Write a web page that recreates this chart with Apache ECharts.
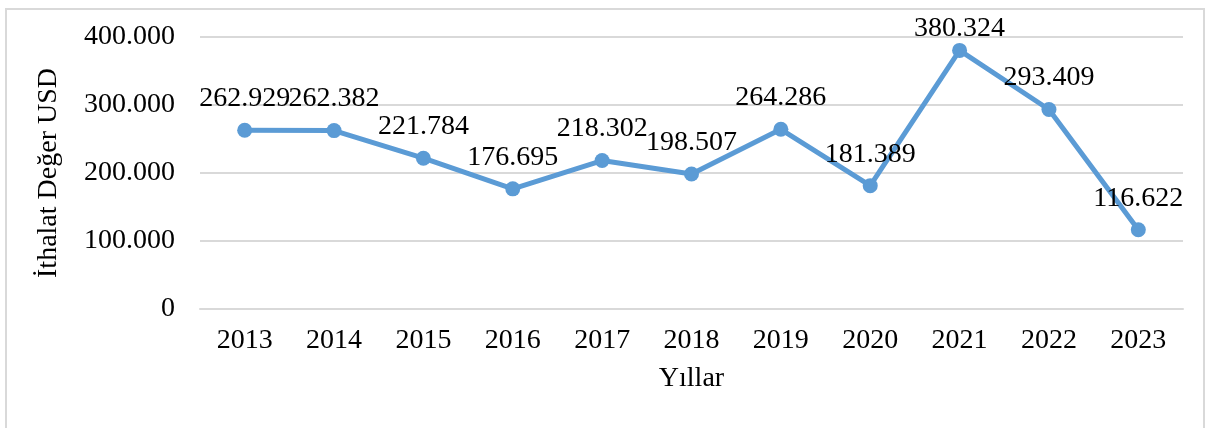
<!DOCTYPE html>
<html>
<head>
<meta charset="UTF-8">
<title>İthalat Değer USD</title>
<script src="https://cdn.jsdelivr.net/npm/echarts@6/dist/echarts.min.js"></script>
<style>
html, body { margin: 0; padding: 0; background: #fff; }
#frame {
	position: absolute; left: 5px; top: 8px; width: 1200px; height: 430px;
	border: 2px solid #d9d9d9; box-sizing: border-box;
}
#main { position: absolute; left: 0; top: 0; width: 1214px; height: 428px; }
</style>
</head>
<body>
<div id="frame"></div>
<div id="main"></div>
<script>
	// veriler
	var years = ['2013', '2014', '2015', '2016', '2017', '2018', '2019', '2020', '2021', '2022', '2023'];
	var values = [262929, 262382, 221784, 176695, 218302, 198507, 264286, 181389, 380324, 293409, 116622];
	var yTicks = [0, 100000, 200000, 300000, 400000];

	function fmt(v) {
		if (v === 0) return '0';
		var s = String(Math.round(v));
		return s.replace(/\B(?=(\d{3})+(?!\d))/g, '.');
	}

	var font = 'Liberation Serif, Times New Roman, serif';
	var myChart = echarts.init(document.getElementById('main'));

	var option = {
		animation : false,
		textStyle : { fontFamily : font },
		grid : {
			left : 200,
			right : 31,
			top : 37,
			bottom : 119
		},
		xAxis : {
			type : 'category',
			data : years,
			name : 'Yıllar',
			nameLocation : 'middle',
			nameGap : 56,
			nameTextStyle : { fontFamily : font, fontSize : 28, color : '#000' },
			axisLine : { lineStyle : { color : '#d9d9d9', width : 2 } },
			axisTick : { show : false },
			axisLabel : { fontFamily : font, fontSize : 28, color : '#000', margin : 18 }
		},
		yAxis : {
			type : 'value',
			min : yTicks[0],
			max : yTicks[yTicks.length - 1],
			interval : 100000,
			name : 'İthalat Değer USD',
			nameLocation : 'middle',
			nameGap : 137,
			nameTextStyle : { fontFamily : font, fontSize : 28, color : '#000' },
			axisLine : { show : false },
			axisTick : { show : false },
			splitLine : { lineStyle : { color : '#d9d9d9', width : 2 } },
			axisLabel : {
				fontFamily : font, fontSize : 28, color : '#000', margin : 25,
				formatter : function(v) { return fmt(v); }
			}
		},
		series : [ {
			type : 'line',
			data : values.map(function(v, i) {
				var d = { value : v };
				if (i === 8) d.label = { distance : 0 };
				return d;
			}),
			symbol : 'circle',
			symbolSize : 15,
			lineStyle : { color : '#5b9bd5', width : 5 },
			itemStyle : { color : '#5b9bd5' },
			label : {
				show : true,
				position : 'top',
				distance : 10,
				fontFamily : font,
				fontSize : 28,
				color : '#000',
				formatter : function(p) { return fmt(p.value); }
			}
		} ]
	};
	myChart.setOption(option);
</script>
</body>
</html>
